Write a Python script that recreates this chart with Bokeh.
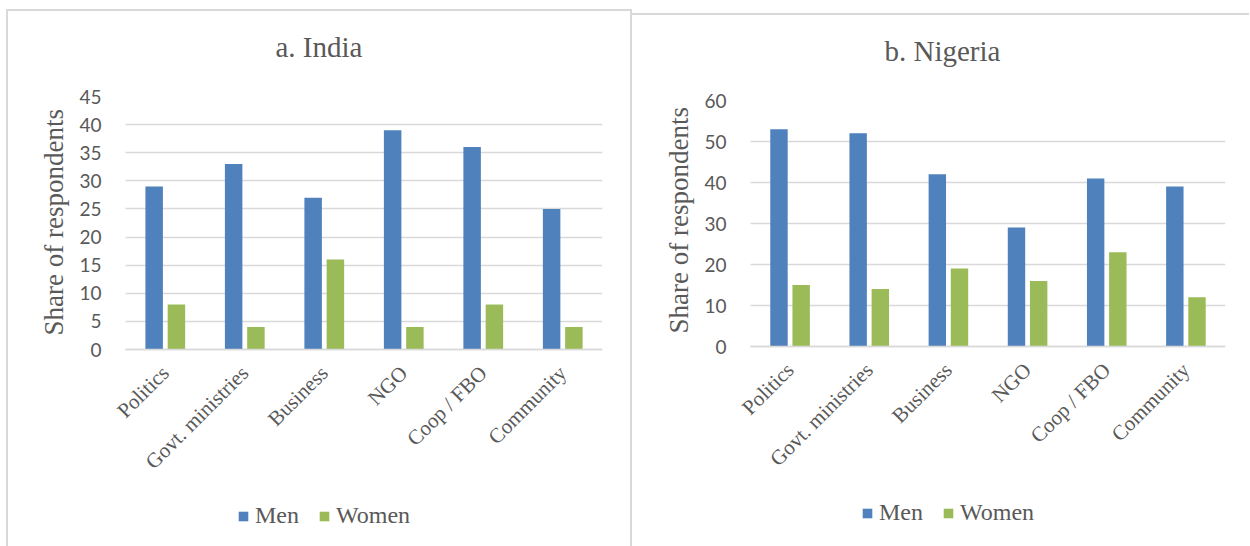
import math
from bokeh.plotting import figure
from bokeh.models import Legend, LegendItem, Range1d, FixedTicker, Div, Spacer, Title
from bokeh.layouts import row, column
from bokeh.embed import file_html
from bokeh.resources import INLINE
from bokeh.transform import dodge

# Roles where respondents hold positions
categories = ["Politics", "Govt. ministries", "Business", "NGO", "Coop / FBO", "Community"]

# Share of respondents (%) - India
india_men = [29, 33, 27, 39, 36, 25]
india_women = [8, 4, 16, 4, 8, 4]

# Share of respondents (%) - Nigeria
nigeria_men = [53, 52, 42, 29, 41, 39]
nigeria_women = [15, 14, 19, 16, 23, 12]

india_ticks = [0, 5, 10, 15, 20, 25, 30, 35, 40, 45]
nigeria_ticks = [0, 10, 20, 30, 40, 50, 60]

MEN_COLOR = "#4f81bd"
WOMEN_COLOR = "#9bbb59"
GRID_COLOR = "#d9d9d9"
TEXT_COLOR = "#595959"
SERIF = "Liberation Serif"
SANS = "Lato"

LEFT_PAD = 0.164  # extra room left of the first group so its slanted label is not cut


def make_panel(title, men, women, ticks, frame_w, data_h, below_h, b_left, b_right,
               title_offset, ylabel_offset, legend_xy):
    n = len(categories)
    pos = list(range(n))
    ymax = ticks[-1]
    # the plot area reaches down past the category labels to hold the legend
    ymin = -ymax * below_h / data_h
    p = figure(
        x_range=Range1d(-0.5 - LEFT_PAD, n - 0.5),
        y_range=Range1d(ymin, ymax),
        frame_width=frame_w, frame_height=data_h + below_h,
        output_backend="svg", toolbar_location=None,
        min_border_top=85, min_border_bottom=0,
        min_border_left=b_left, min_border_right=b_right,
        outline_line_color=None,
    )

    data = dict(pos=pos, men=men, women=women)
    r_men = p.vbar(x=dodge("pos", -0.14), top="men", width=0.22,
                   source=data, fill_color=MEN_COLOR, line_color=None)
    r_women = p.vbar(x=dodge("pos", 0.14), top="women", width=0.22,
                     source=data, fill_color=WOMEN_COLOR, line_color=None)

    # trailing blank line keeps the heading clear of the plot area
    p.title.text = title + "\n"
    p.title.align = "left"
    p.title.vertical_align = "top"
    p.title.offset = title_offset
    p.title.text_font = SERIF
    p.title.text_font_size = "29px"
    p.title.text_font_style = "normal"
    p.title.text_color = TEXT_COLOR
    p.title.standoff = 0

    p.xgrid.grid_line_color = None
    ygrid = p.ygrid[0]
    ygrid.grid_line_color = GRID_COLOR
    ygrid.grid_line_width = 1.5
    if "cross_bounds" in ygrid.properties():
        ygrid.cross_bounds = (-0.5, n - 0.5)
    p.yaxis.ticker = FixedTicker(ticks=ticks)

    p.yaxis.axis_line_color = None
    p.yaxis.major_tick_line_color = None
    p.yaxis.minor_tick_line_color = None
    p.yaxis.major_label_standoff = 5
    p.yaxis.major_label_text_font = SANS
    p.yaxis.major_label_text_font_size = "19px"
    p.yaxis.major_label_text_color = TEXT_COLOR

    ylabel = Title(text="Share of respondents", align="left", offset=ylabel_offset,
                   vertical_align="bottom", standoff=16,
                   text_font=SERIF, text_font_size="27px", text_font_style="normal",
                   text_color=TEXT_COLOR)
    p.add_layout(ylabel, "left")

    p.xaxis.fixed_location = 0
    p.xaxis.bounds = (-0.5, n - 0.5)
    p.xaxis.ticker = FixedTicker(ticks=pos)
    p.xaxis.major_label_overrides = {i: name for i, name in zip(pos, categories)}
    p.xaxis.axis_line_color = GRID_COLOR
    p.xaxis.axis_line_width = 1.5
    p.xaxis.major_tick_line_color = None
    p.xaxis.minor_tick_line_color = None
    p.xaxis.major_label_orientation = math.pi / 4
    p.xaxis.major_label_standoff = 14
    p.xaxis.major_label_text_font = SERIF
    p.xaxis.major_label_text_font_size = "21px"
    p.xaxis.major_label_text_color = TEXT_COLOR

    legend = Legend(
        items=[LegendItem(label="Men", renderers=[r_men]),
               LegendItem(label="Women", renderers=[r_women])],
        orientation="horizontal", location=legend_xy,
        label_text_font=SERIF, label_text_font_size="24px",
        label_text_color=TEXT_COLOR,
        glyph_width=12, glyph_height=12, spacing=19, label_standoff=6,
        border_line_color=None, background_fill_alpha=0, margin=0, padding=0,
    )
    p.add_layout(legend, "center")
    return p


def rule(w, h):
    return Div(text="", width=w, height=h, margin=0,
               styles={"background-color": GRID_COLOR})


left = make_panel("a. India", india_men, india_women, india_ticks,
                  frame_w=490, data_h=253, below_h=197, b_left=104, b_right=28,
                  title_offset=163, ylabel_offset=211, legend_xy=(125, 17))

right = make_panel("b. Nigeria", nigeria_men, nigeria_women, nigeria_ticks,
                   frame_w=488, data_h=246, below_h=200, b_left=105, b_right=24,
                   title_offset=147, ylabel_offset=213, legend_xy=(124, 20))

left_block = column(Spacer(width=1, height=9, margin=0),
                    row(rule(2, 537),
                        column(rule(622, 2), left, spacing=0, margin=0),
                        rule(2, 537), spacing=0, margin=0),
                    spacing=0, margin=0)
right_block = column(Spacer(width=1, height=13, margin=0), rule(617, 2), right,
                     spacing=0, margin=0)

layout = row(Spacer(width=6, height=1, margin=0), left_block, right_block,
             spacing=0, margin=0)

open("out.html", "w").write(file_html(layout, INLINE))
